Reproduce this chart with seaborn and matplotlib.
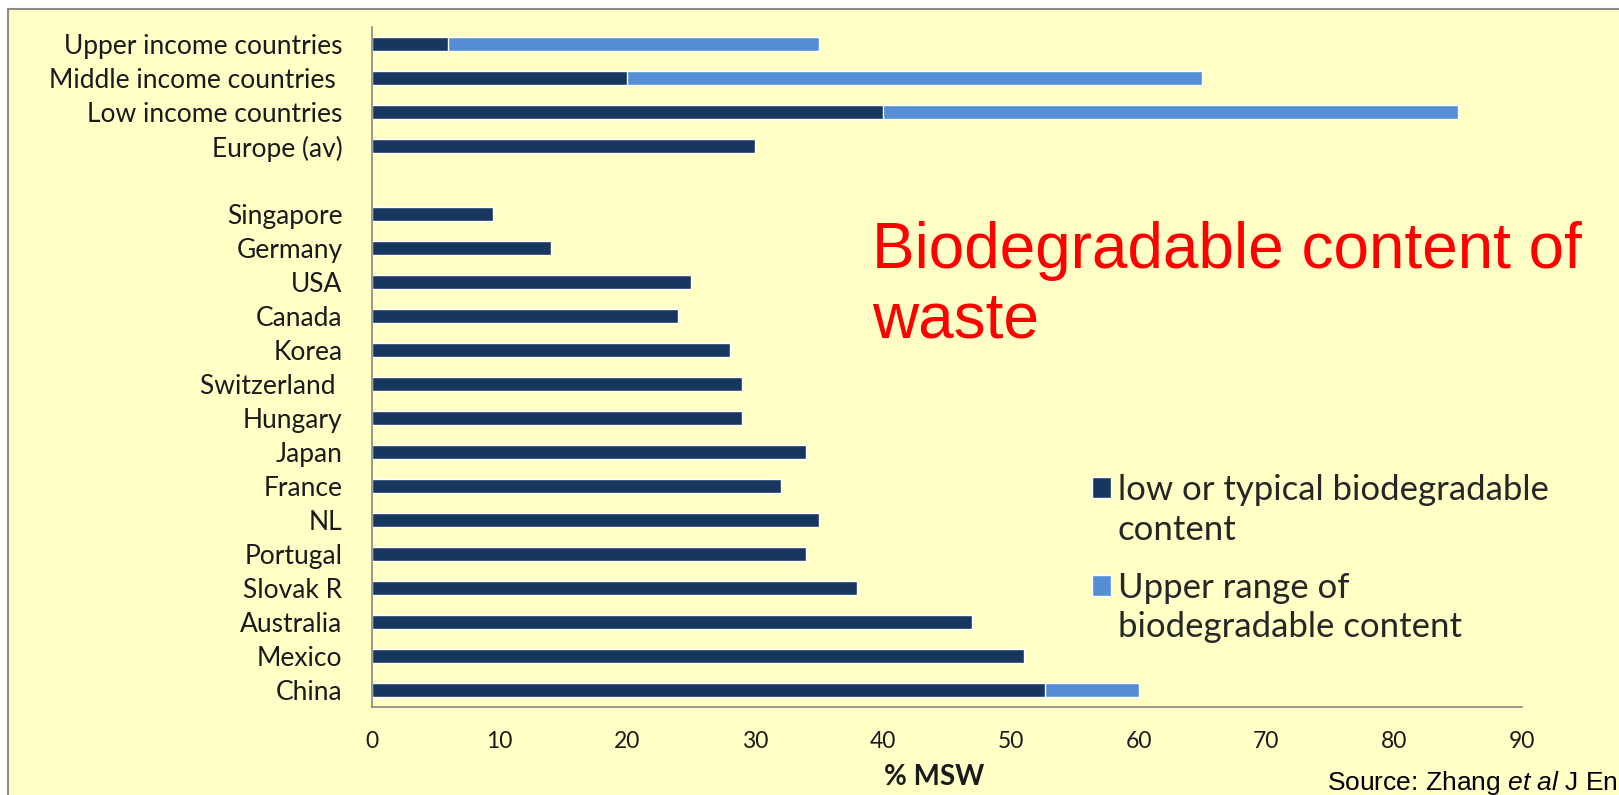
import numpy as np
import pandas as pd
import matplotlib
matplotlib.use("Agg")
import matplotlib.pyplot as plt
import seaborn as sns
from matplotlib.patches import Rectangle
from matplotlib.legend_handler import HandlerPatch

# Categories from top to bottom, " " is the empty gap row between the two groups
categories = ["Upper income countries", "Middle income countries ", "Low income countries",
              "Europe (av)", " ", "Singapore", "Germany", "USA", "Canada", "Korea",
              "Switzerland ", "Hungary", "Japan", "France", "NL", "Portugal", "Slovak R",
              "Australia", "Mexico", "China"]

# low or typical biodegradable content (% MSW)
low_values = [6, 20, 40, 30, np.nan, 9.5, 14, 25, 24, 28, 29, 29, 34, 32, 35, 34, 38, 47, 51, 52.7]

# top of the upper range (% MSW), only where a range is given
upper_values = [35, 65, 85, np.nan, np.nan, np.nan, np.nan, np.nan, np.nan, np.nan,
                np.nan, np.nan, np.nan, np.nan, np.nan, np.nan, np.nan, np.nan, np.nan, 60]

x_ticks = [0, 10, 20, 30, 40, 50, 60, 70, 80, 90]

dark_blue = "#17375E"
light_blue = "#558ED5"
paper = "#FFFFC6"
grey = "#868686"

sns.set_style("white")
plt.rcParams["font.family"] = ["Lato", "DejaVu Sans"]
plt.rcParams["mathtext.fontset"] = "custom"
plt.rcParams["mathtext.rm"] = "Liberation Sans"
plt.rcParams["mathtext.it"] = "Liberation Sans:italic"

df = pd.DataFrame({"country": categories, "low": low_values, "upper": upper_values})
df_low = df.dropna(subset=["low"])
df_upper = df.dropna(subset=["upper"])

fig = plt.figure(figsize=(16.19, 7.95), dpi=100, facecolor="white")

# yellow slide panel with grey frame, running off the right and bottom edge
fig.patches.append(Rectangle((0.005, -0.05), 1.1, 0.9887 + 0.05, transform=fig.transFigure,
                             facecolor=paper, edgecolor="#8C8C80", linewidth=1.5, zorder=-10))

ax = fig.add_axes([0.2296, 0.1107, 0.7105, 0.8553])
ax.set_facecolor("none")

# upper range drawn full length first, low part on top of it (looks stacked)
sns.barplot(data=df_upper, x="upper", y="country", order=categories, orient="h",
            color=light_blue, saturation=1, width=0.4, errorbar=None,
            label="Upper range of\nbiodegradable content", ax=ax)
sns.barplot(data=df_low, x="low", y="country", order=categories, orient="h",
            color=dark_blue, saturation=1, width=0.4, errorbar=None,
            label="low or typical biodegradable\ncontent", ax=ax)

ax.set_xlim(0, 90)
ax.set_ylim(len(categories) - 0.5, -0.5)
ax.set_xticks(x_ticks)
ax.set_yticks(np.arange(-0.5, len(categories), 1), minor=True)

for side in ["top", "right"]:
    ax.spines[side].set_visible(False)
for side in ["left", "bottom"]:
    ax.spines[side].set_color(grey)
    ax.spines[side].set_linewidth(1.2)

ax.tick_params(axis="y", which="major", length=0, pad=21, labelsize=19, labelcolor="#1A1A1A")
ax.tick_params(axis="y", which="minor", length=8, width=1.2, color=grey, direction="out")
ax.tick_params(axis="x", which="major", length=8, width=1.2, color=grey, direction="out",
               pad=9, labelsize=16.5, labelcolor="#1A1A1A")

ax.set_ylabel("")
ax.set_xlabel("")
fig.text(0.577, 0.012, "% MSW", fontsize=20, fontweight="bold", color="#1A1A1A",
         ha="center", va="baseline")


# legend squares sit level with the first line of each two-line label
def top_square(legend, orig_handle, xdescent, ydescent, width, height, fontsize):
    return Rectangle((-xdescent, -ydescent + 0.66 * fontsize), width, height)


handles, labels = ax.get_legend_handles_labels()
handles = [h.patches[0] for h in handles]
leg = ax.legend(handles[::-1], labels[::-1], loc="upper left", bbox_to_anchor=(0.6636, 0.4254),
                bbox_transform=fig.transFigure, frameon=False, fontsize=25,
                handlelength=0.55, handleheight=0.55, handletextpad=0.2, labelspacing=0.74,
                borderpad=0, handler_map={Rectangle: HandlerPatch(patch_func=top_square)})
for t in leg.get_texts():
    t.set_linespacing(1.3)

fig.text(0.5386, 0.722, "Biodegradable content of\nwaste", color="#FF0000",
         fontsize=46, family="Liberation Sans", ha="left", va="top", linespacing=1.2)

fig.text(0.8196, 0.006, r"Source: Zhang $\it{et\ al}$ J En", fontsize=19,
         family="Liberation Sans", color="black", ha="left", va="baseline")

fig.savefig("out.png", dpi=100, facecolor="white")
